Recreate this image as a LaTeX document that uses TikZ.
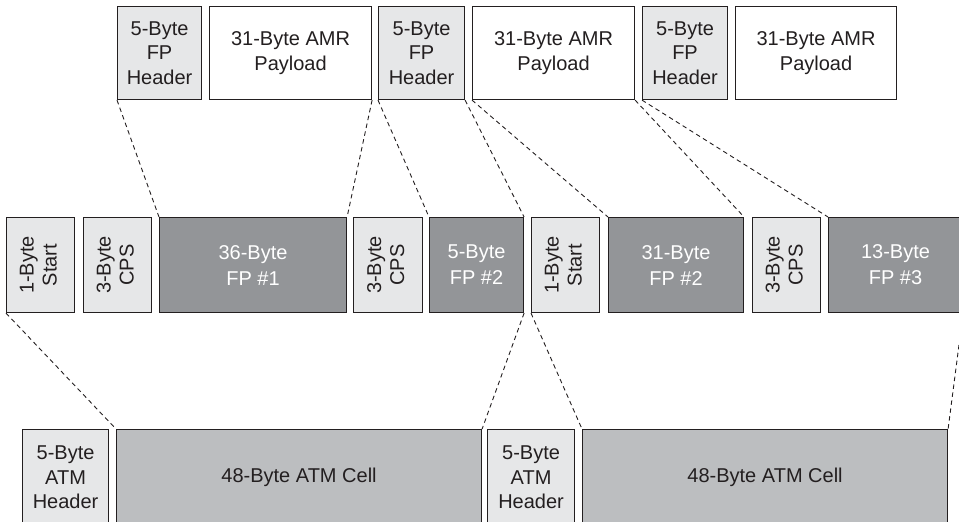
\documentclass[tikz,border=0pt]{standalone}
\usepackage{fontspec}
\setmainfont{Liberation Sans}
\usepackage{graphicx}
\definecolor{edge}{HTML}{231F20}
\definecolor{lightg}{HTML}{E6E7E8}
\definecolor{darkg}{HTML}{939598}
\definecolor{cellg}{HTML}{BCBEC0}
\newcommand{\vtext}[2]{\rotatebox{90}{\fontsize{20}{23}\selectfont\begin{tabular}{@{}c@{}}#1\\#2\end{tabular}}}
\tikzset{
  pbox/.style={draw=edge, line width=1.1pt, inner sep=0pt, align=center, anchor=north west,
    font=\fontsize{20}{24.5}\selectfont, text=edge},
  lbox/.style={pbox, fill=lightg},
  wbox/.style={pbox, fill=white},
  dbox/.style={pbox, fill=darkg, text=white, font=\fontsize{20}{26}\selectfont},
  cbox/.style={pbox, fill=cellg},
  conn/.style={draw=edge, line width=0.9pt, dash pattern=on 4.5pt off 3.5pt}
}
\begin{document}
\begin{tikzpicture}[x=1pt,y=-1pt]
\clip (0,0) rectangle (959,522);
% top row
\node[lbox, minimum width=84pt, minimum height=93pt] (h1) at (117,6) {5-Byte\\FP\\Header};
\node[wbox, minimum width=162pt, minimum height=93pt] (p1) at (209,6) {31-Byte AMR\\Payload};
\node[lbox, minimum width=86pt, minimum height=93pt] (h2) at (378,6) {5-Byte\\FP\\Header};
\node[wbox, minimum width=162pt, minimum height=93pt] (p2) at (472,6) {31-Byte AMR\\Payload};
\node[lbox, minimum width=85pt, minimum height=93pt] (h3) at (642,6) {5-Byte\\FP\\Header};
\node[wbox, minimum width=161pt, minimum height=93pt] (p3) at (735,6) {31-Byte AMR\\Payload};
% middle row
\node[lbox, minimum width=68pt, minimum height=95pt] (s1) at (6,217) {\vtext{1-Byte}{Start}};
\node[lbox, minimum width=68pt, minimum height=95pt] (c1) at (83,217) {\vtext{3-Byte}{CPS}};
\node[dbox, minimum width=187pt, minimum height=95pt] (f1) at (159,217) {36-Byte\\FP \#1};
\node[lbox, minimum width=69pt, minimum height=95pt] (c2) at (353,217) {\vtext{3-Byte}{CPS}};
\node[dbox, minimum width=94pt, minimum height=95pt] (f2) at (429,217) {5-Byte\\FP \#2};
\node[lbox, minimum width=68pt, minimum height=95pt] (s2) at (531,217) {\vtext{1-Byte}{Start}};
\node[dbox, minimum width=135pt, minimum height=95pt] (f22) at (608,217) {31-Byte\\FP \#2};
\node[lbox, minimum width=68pt, minimum height=95pt] (c3) at (752,217) {\vtext{3-Byte}{CPS}};
\node[dbox, minimum width=134pt, minimum height=95pt] (f3) at (828,217) {13-Byte\\FP \#3};
% bottom row
\node[lbox, minimum width=86pt, minimum height=96pt] (a1) at (22,429) {5-Byte\\ATM\\Header};
\node[cbox, minimum width=365pt, minimum height=96pt] (cell1) at (116,429) {48-Byte ATM Cell};
\node[lbox, minimum width=87pt, minimum height=96pt] (a2) at (487,429) {5-Byte\\ATM\\Header};
\node[cbox, minimum width=365pt, minimum height=96pt] (cell2) at (582,429) {48-Byte ATM Cell};
% connectors
\draw[conn] (h1.south west) -- (f1.north west);
\draw[conn] (p1.south east) -- (f1.north east);
\draw[conn] (h2.south west) -- (f2.north west);
\draw[conn] (h2.south east) -- (f2.north east);
\draw[conn] (p2.south west) -- (f22.north west);
\draw[conn] (p2.south east) -- (f22.north east);
\draw[conn] (h3.south west) -- (f3.north west);
\draw[conn] (s1.south west) -- (cell1.north west);
\draw[conn] (f2.south east) -- (cell1.north east);
\draw[conn] (s2.south west) -- (cell2.north west);
\draw[conn] (f3.south east) -- (cell2.north east);
\end{tikzpicture}
\end{document}
